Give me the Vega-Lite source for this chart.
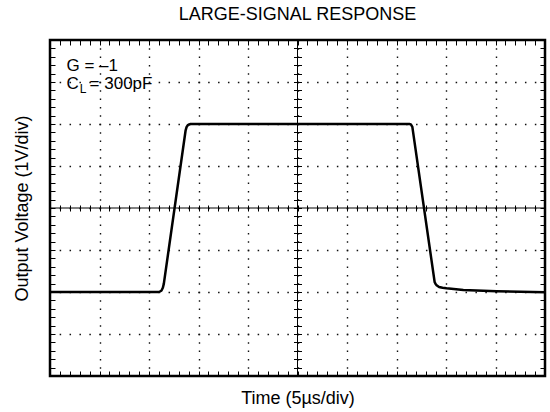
{
  "$schema": "https://vega.github.io/schema/vega-lite/v6.json",
  "width": 495,
  "height": 336,
  "autosize": "none",
  "padding": {"left": 50, "top": 40, "right": 5, "bottom": 36},
  "background": "white",
  "config": {
    "font": "Liberation Sans",
    "view": {"stroke": "black", "strokeWidth": 2.5},
    "axis": {"labels": false, "domain": false, "grid": false, "tickColor": "black", "tickWidth": 1}
  },
  "title": {"text": "LARGE-SIGNAL RESPONSE", "fontSize": 18, "fontWeight": "normal", "font": "Liberation Sans", "color": "black", "offset": 2, "anchor": "middle", "baseline": "alphabetic"},
  "layer": [
    {
      "data": {"values": [
        {"t": 0, "v": 2.0}, {"t": 1.0, "v": 2.0}, {"t": 2.0, "v": 2.0}, {"t": 2.2, "v": 2.0},
        {"t": 2.25, "v": 2.03}, {"t": 2.28, "v": 2.1}, {"t": 2.3, "v": 2.2},
        {"t": 2.74, "v": 5.85}, {"t": 2.76, "v": 5.93}, {"t": 2.79, "v": 5.98}, {"t": 2.84, "v": 6.0},
        {"t": 3.0, "v": 6.0}, {"t": 5.0, "v": 6.0}, {"t": 7.26, "v": 6.0}, {"t": 7.29, "v": 5.99},
        {"t": 7.32, "v": 5.93}, {"t": 7.77, "v": 2.24}, {"t": 7.79, "v": 2.19}, {"t": 7.81, "v": 2.16},
        {"t": 7.86, "v": 2.12}, {"t": 7.93, "v": 2.1}, {"t": 8.01, "v": 2.088}, {"t": 8.35, "v": 2.048},
        {"t": 9.02, "v": 2.017}, {"t": 10, "v": 1.993}
      ]},
      "mark": {"type": "line", "color": "black", "strokeWidth": 2.5, "strokeJoin": "round", "strokeCap": "butt"},
      "encoding": {
        "x": {"field": "t", "type": "quantitative", "scale": {"domain": [0, 10], "nice": false, "zero": false},
          "axis": {"orient": "bottom", "tickSize": -5,
            "values": [0,0.2,0.4,0.6,0.8,1,1.2,1.4,1.6,1.8,2,2.2,2.4,2.6,2.8,3,3.2,3.4,3.6,3.8,4,4.2,4.4,4.6,4.8,5,5.2,5.4,5.6,5.8,6,6.2,6.4,6.6,6.8,7,7.2,7.4,7.6,7.8,8,8.2,8.4,8.6,8.8,9,9.2,9.4,9.6,9.8,10],
            "title": "Time (5µs/div)", "titleFontSize": 18, "titleFontWeight": "normal", "titleColor": "black", "titleBaseline": "alphabetic", "titleY": 27}},
        "y": {"field": "v", "type": "quantitative", "scale": {"domain": [0, 8], "nice": false, "zero": false},
          "axis": {"orient": "left", "tickSize": -5,
            "values": [0,0.2,0.4,0.6,0.8,1,1.2,1.4,1.6,1.8,2,2.2,2.4,2.6,2.8,3,3.2,3.4,3.6,3.8,4,4.2,4.4,4.6,4.8,5,5.2,5.4,5.6,5.8,6,6.2,6.4,6.6,6.8,7,7.2,7.4,7.6,7.8,8],
            "title": "Output Voltage (1V/div)", "titleFontSize": 18, "titleFontWeight": "normal", "titleColor": "black", "titleBaseline": "alphabetic", "titleX": -23, "titleY": 168}}
      }
    },
    {
      "data": {"values": [{}]},
      "mark": {"type": "rule", "color": "black", "strokeWidth": 1},
      "encoding": {
        "x": {"datum": 5, "type": "quantitative", "scale": {"domain": [0, 10], "nice": false, "zero": false},
          "axis": {"orient": "top", "tickSize": -5, "title": null,
            "values": [0,0.2,0.4,0.6,0.8,1,1.2,1.4,1.6,1.8,2,2.2,2.4,2.6,2.8,3,3.2,3.4,3.6,3.8,4,4.2,4.4,4.6,4.8,5,5.2,5.4,5.6,5.8,6,6.2,6.4,6.6,6.8,7,7.2,7.4,7.6,7.8,8,8.2,8.4,8.6,8.8,9,9.2,9.4,9.6,9.8,10]}},
        "y": {"datum": 0, "type": "quantitative", "scale": {"domain": [0, 8], "nice": false, "zero": false},
          "axis": {"orient": "right", "tickSize": -5, "title": null,
            "values": [0,0.2,0.4,0.6,0.8,1,1.2,1.4,1.6,1.8,2,2.2,2.4,2.6,2.8,3,3.2,3.4,3.6,3.8,4,4.2,4.4,4.6,4.8,5,5.2,5.4,5.6,5.8,6,6.2,6.4,6.6,6.8,7,7.2,7.4,7.6,7.8,8]}},
        "y2": {"datum": 8}
      }
    },
    {
      "data": {"values": [{}]},
      "mark": {"type": "rule", "color": "black", "strokeWidth": 1},
      "encoding": {
        "y": {"datum": 4, "type": "quantitative", "scale": {"domain": [0, 8], "nice": false, "zero": false},
          "axis": {"orient": "left", "tickSize": 8, "offset": -251.5, "title": null,
            "values": [0.2,0.4,0.6,0.8,1,1.2,1.4,1.6,1.8,2,2.2,2.4,2.6,2.8,3,3.2,3.4,3.6,3.8,4,4.2,4.4,4.6,4.8,5,5.2,5.4,5.6,5.8,6,6.2,6.4,6.6,6.8,7,7.2,7.4,7.6,7.8]}},
        "x": {"datum": 0, "type": "quantitative", "scale": {"domain": [0, 10], "nice": false, "zero": false},
          "axis": {"orient": "bottom", "tickSize": 6, "offset": -171, "title": null,
            "values": [0.2,0.4,0.6,0.8,1,1.2,1.4,1.6,1.8,2,2.2,2.4,2.6,2.8,3,3.2,3.4,3.6,3.8,4,4.2,4.4,4.6,4.8,5,5.2,5.4,5.6,5.8,6,6.2,6.4,6.6,6.8,7,7.2,7.4,7.6,7.8,8,8.2,8.4,8.6,8.8,9,9.2,9.4,9.6,9.8]}},
        "x2": {"datum": 10}
      }
    },
    {
      "data": {"values": [{}]},
      "mark": {"type": "text", "align": "left", "baseline": "alphabetic", "fontSize": 17, "color": "black"},
      "encoding": {
        "x": {"datum": 0.333, "type": "quantitative", "scale": {"domain": [0, 10], "nice": false, "zero": false},
          "axis": {"orient": "bottom", "ticks": false, "grid": true, "title": null, "values": [1,2,3,4,5,6,7,8,9],
            "gridColor": "#111", "gridWidth": 1.4, "gridDash": [1.5, 6.9], "gridDashOffset": 0.75}},
        "y": {"datum": 7.27, "type": "quantitative", "scale": {"domain": [0, 8], "nice": false, "zero": false},
          "axis": {"orient": "left", "ticks": false, "grid": true, "title": null, "values": [1,2,3,4,5,6,7],
            "gridColor": "#111", "gridWidth": 1.4, "gridDash": [1.5, 8.4], "gridDashOffset": 0.75}},
        "text": {"value": "G = –1"}
      }
    },
    {
      "data": {"values": [{}]},
      "mark": {"type": "text", "align": "left", "baseline": "alphabetic", "fontSize": 17, "color": "black"},
      "encoding": {
        "x": {"datum": 0.333, "type": "quantitative", "scale": {"domain": [0, 10], "nice": false, "zero": false}, "axis": null},
        "y": {"datum": 6.845, "type": "quantitative", "scale": {"domain": [0, 8], "nice": false, "zero": false}, "axis": null},
        "text": {"value": "C"}
      }
    },
    {
      "data": {"values": [{}]},
      "mark": {"type": "text", "align": "left", "baseline": "alphabetic", "fontSize": 12, "color": "black"},
      "encoding": {
        "x": {"datum": 0.6, "type": "quantitative", "scale": {"domain": [0, 10], "nice": false, "zero": false}, "axis": null},
        "y": {"datum": 6.73, "type": "quantitative", "scale": {"domain": [0, 8], "nice": false, "zero": false}, "axis": null},
        "text": {"value": "L"}
      }
    },
    {
      "data": {"values": [{}]},
      "mark": {"type": "text", "align": "left", "baseline": "alphabetic", "fontSize": 17, "color": "black"},
      "encoding": {
        "x": {"datum": 0.8, "type": "quantitative", "scale": {"domain": [0, 10], "nice": false, "zero": false}, "axis": null},
        "y": {"datum": 6.845, "type": "quantitative", "scale": {"domain": [0, 8], "nice": false, "zero": false}, "axis": null},
        "text": {"value": "= 300pF"}
      }
    }
  ],
  "resolve": {"axis": {"x": "independent", "y": "independent"}}
}
